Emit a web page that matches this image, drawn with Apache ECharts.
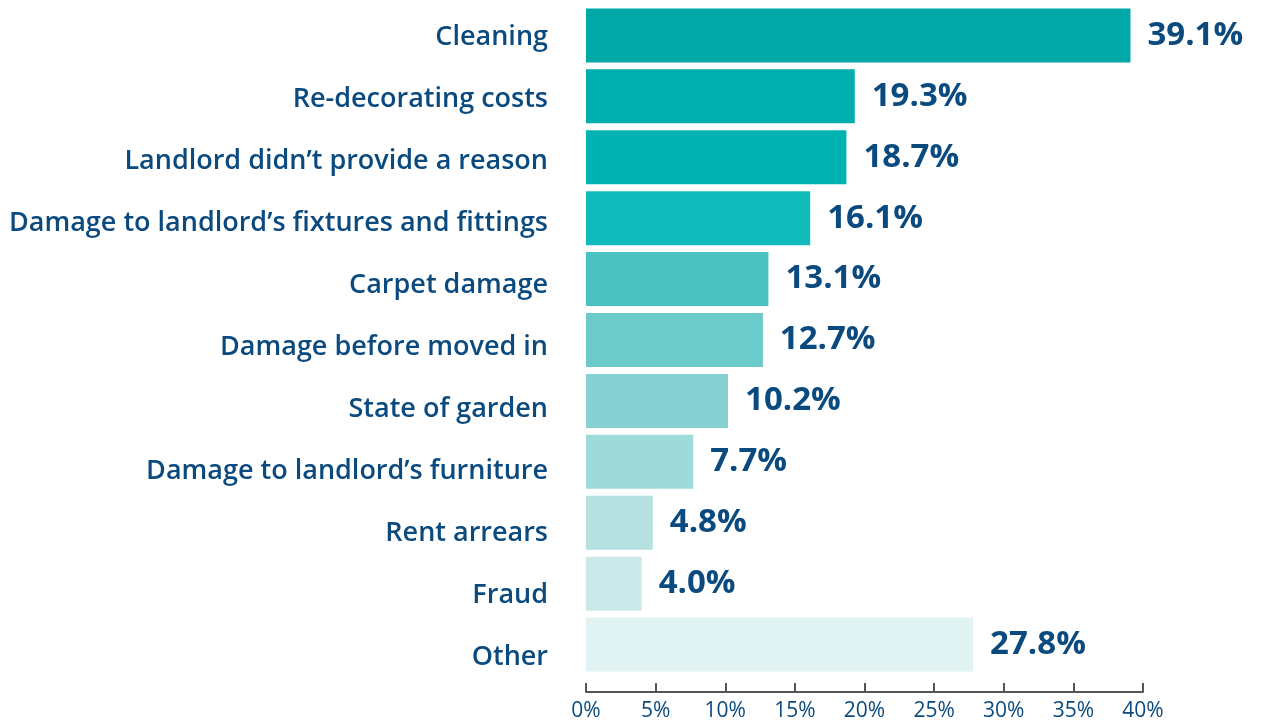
<!DOCTYPE html>
<html>
<head>
<meta charset="utf-8">
<script src="https://cdn.jsdelivr.net/npm/echarts@6/dist/echarts.min.js"></script>
<style>
  html, body { margin: 0; padding: 0; background: #fff; }
  #chart { width: 1270px; height: 724px; }
</style>
</head>
<body>
<div id="chart"></div>
<script>
// categories top to bottom
var categories = [
  "Cleaning",
  "Re-decorating costs",
  "Landlord didn\u2019t provide a reason",
  "Damage to landlord\u2019s fixtures and fittings",
  "Carpet damage",
  "Damage before moved in",
  "State of garden",
  "Damage to landlord\u2019s furniture",
  "Rent arrears",
  "Fraud",
  "Other"
];
var values = [39.1, 19.3, 18.7, 16.1, 13.1, 12.7, 10.2, 7.7, 4.8, 4.0, 27.8];
var barColors = [
  "#00a8a8", "#00aeae", "#00b3b3", "#12bbbb", "#4bc2c2", "#6bcaca",
  "#88d1d2", "#9fdada", "#b5e1e1", "#cbe9e9", "#e0f2f2"
];
var tickValues = [0, 5, 10, 15, 20, 25, 30, 35, 40];

var textColor = "#0b4a7f";

var chart = echarts.init(document.getElementById("chart"));

var seriesData = [];
for (var i = 0; i < values.length; i++) {
  seriesData.push({
    value: values[i],
    itemStyle: { color: barColors[i] }
  });
}

// the category names sit on a slightly looser spacing than the bars,
// so they get their own (empty) grid
var option = {
  animation: false,
  grid: [
    { left: 586, right: 127, top: 5, bottom: 49 },
    { left: 586, right: 127, top: 6, bottom: 36 }
  ],
  xAxis: [
    {
      type: "value",
      gridIndex: 0,
      min: tickValues[0],
      max: tickValues[tickValues.length - 1],
      interval: 5,
      offset: 17,
      splitLine: { show: false },
      axisLine: { show: true, lineStyle: { color: "#555", width: 2 } },
      axisTick: { show: true, inside: true, length: 9, lineStyle: { color: "#555", width: 2 } },
      axisLabel: {
        color: textColor,
        fontFamily: "Open Sans",
        fontSize: 21,
        margin: 9,
        formatter: "{value}%"
      }
    },
    {
      type: "value",
      gridIndex: 1,
      show: false
    }
  ],
  yAxis: [
    {
      type: "category",
      gridIndex: 0,
      inverse: true,
      data: categories,
      axisLine: { show: false },
      axisTick: { show: false },
      axisLabel: { show: false }
    },
    {
      type: "category",
      gridIndex: 1,
      inverse: true,
      data: categories,
      axisLine: { show: false },
      axisTick: { show: false },
      axisLabel: {
        color: textColor,
        fontFamily: "Open Sans",
        fontWeight: 600,
        fontSize: 27,
        margin: 38
      }
    }
  ],
  series: [
    {
      type: "bar",
      xAxisIndex: 0,
      yAxisIndex: 0,
      barWidth: 54,
      data: seriesData,
      label: {
        show: true,
        position: "right",
        distance: 17,
        color: textColor,
        fontFamily: "Open Sans",
        fontWeight: "bold",
        fontSize: 33,
        formatter: function (p) {
          return p.value.toFixed(1) + "%";
        }
      }
    }
  ]
};

chart.setOption(option);
</script>
</body>
</html>
